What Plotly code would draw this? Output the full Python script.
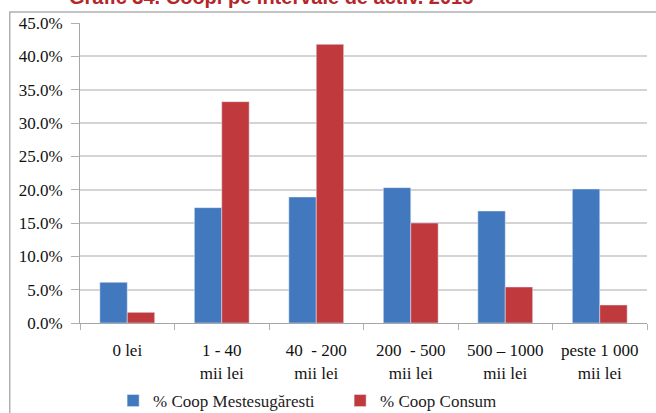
import plotly.graph_objects as go

categories = ["0 lei", "1 - 40<br>mii lei", "40  - 200<br>mii lei", "200  - 500<br>mii lei",
              "500 \u2013 1000<br>mii lei", "peste 1 000<br>mii lei"]
mestesugaresti = [6.1, 17.3, 18.9, 20.3, 16.8, 20.1]
consum = [1.6, 33.2, 41.8, 15.0, 5.4, 2.7]
series_names = ["% Coop Mestesug\u0103resti", "% Coop Consum"]
title_text = "Grafic 34. Coopi pe intervale de activ. 2015"

BLUE = "#4178be"
RED = "#c0393d"
SERIF = "Liberation Serif, Times New Roman, serif"

fig = go.Figure()
fig.add_trace(go.Bar(x=categories, y=mestesugaresti, name=series_names[0], marker_color=BLUE))
fig.add_trace(go.Bar(x=categories, y=consum, name=series_names[1], marker_color=RED))

fig.update_layout(
    width=656, height=413,
    margin=dict(l=80, r=9, t=23, b=90, autoexpand=False),
    paper_bgcolor="white", plot_bgcolor="white",
    barmode="group", bargap=0.42, bargroupgap=0,
    showlegend=True,
    legend=dict(orientation="h", x=(113 - 80) / 565, xanchor="left", y=(323 - 401) / 300, yanchor="middle",
                font=dict(family=SERIF, size=17, color="#222"),
                itemwidth=30, traceorder="normal", entrywidth=182, entrywidthmode="pixels",
                bgcolor="rgba(0,0,0,0)"),
    font=dict(family=SERIF, size=16, color="#111"),
)
fig.update_yaxes(range=[0, 45], dtick=5, tickformat=".1f", ticksuffix="%",
                 showgrid=True, gridcolor="#d4d4d4", gridwidth=1.5,
                 showline=True, linecolor="#a6a6a6", linewidth=1,
                 ticks="outside", ticklen=8, tickcolor="#b0b0b0", ticklabelstandoff=5,
                 tickfont=dict(family=SERIF, size=17, color="#111"), zeroline=False,
                 automargin=False)
fig.update_xaxes(showline=True, linecolor="#a6a6a6", linewidth=1,
                 ticks="outside", ticklen=6, tickcolor="#b0b0b0", tickson="boundaries",
                 ticklabelstandoff=12,
                 tickfont=dict(family=SERIF, size=17, color="#111"), automargin=False)

# outer chart border
fig.add_shape(type="rect", xref="paper", yref="paper",
              x0=(10 - 80) / 565, x1=(655 - 80) / 565,
              y0=-0.5, y1=1 + (23 - 12) / 300,
              line=dict(color="#b0b0b0", width=1.5), layer="below")

fig.add_annotation(text="<b>" + title_text + "</b>", xref="paper", yref="paper",
                   x=(270 - 80) / 565, y=1 + (23 - 10) / 300, xanchor="center", yanchor="bottom",
                   showarrow=False, font=dict(family="Liberation Sans, Arial, sans-serif", size=20, color="#b5262b"))

fig.write_html("out.html", config={"displayModeBar": False},
               post_script="document.body.style.margin='0';document.body.style.overflow='hidden';")
